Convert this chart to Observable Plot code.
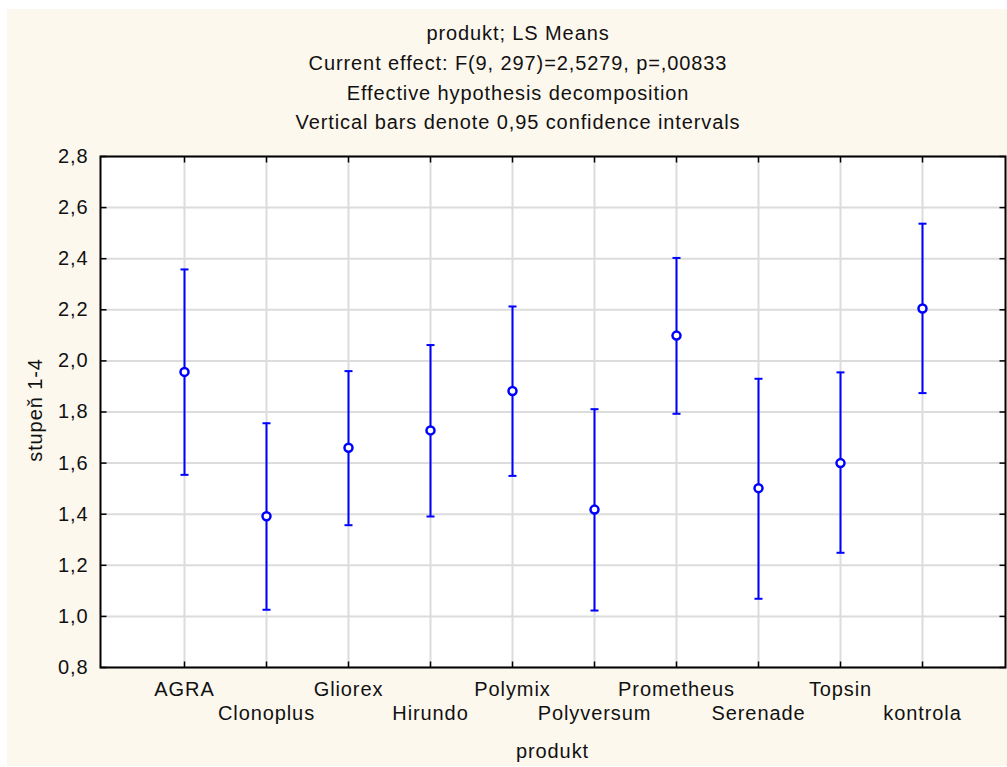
<!DOCTYPE html>
<html><head><meta charset="utf-8">
<script src="https://cdn.jsdelivr.net/npm/d3@7"></script>
<script src="https://cdn.jsdelivr.net/npm/@observablehq/plot@0.6"></script>
<style>
body{margin:0;background:#fff;}
#wrap{position:relative;width:1007px;height:767px;overflow:hidden;font-family:"Liberation Sans",Arial,sans-serif;color:#111;}
#panel{position:absolute;left:7px;top:9px;width:1000px;height:757px;background:#fdf8ee;}
.t{position:absolute;left:0;width:1036px;text-align:center;font-size:20px;letter-spacing:0.9px;line-height:30px;white-space:nowrap;}
#chart{position:absolute;left:0;top:140px;}
#chart svg text{letter-spacing:0.9px;}
#ylab{position:absolute;left:35px;top:410px;transform:translate(-50%,-50%) rotate(-90deg);font-size:20px;letter-spacing:0.9px;white-space:nowrap;line-height:24px;}
#xlab{position:absolute;left:0;width:1105px;top:736px;text-align:center;font-size:20px;letter-spacing:0.9px;line-height:30px;}
</style>
</head><body>
<div id="wrap">
  <div id="panel"></div>
  <div class="t" style="top:18px">produkt; LS Means</div>
  <div class="t" style="top:48px">Current effect: F(9, 297)=2,5279, p=,00833</div>
  <div class="t" style="top:78px">Effective hypothesis decomposition</div>
  <div class="t" style="top:107px">Vertical bars denote 0,95 confidence intervals</div>
  <div id="chart"></div>
  <div id="ylab">stupeň 1-4</div>
  <div id="xlab">produkt</div>
</div>
<script>
const products = ["AGRA","Clonoplus","Gliorex","Hirundo","Polymix","Polyversum","Prometheus","Serenade","Topsin","kontrola"];
const means = [1.957, 1.392, 1.660, 1.728, 1.882, 1.418, 2.099, 1.502, 1.600, 2.205];
const lower = [1.554, 1.026, 1.357, 1.391, 1.550, 1.023, 1.793, 1.069, 1.249, 1.874];
const upper = [2.358, 1.756, 1.960, 2.062, 2.213, 1.811, 2.403, 1.930, 1.955, 2.537];
const yTicks = [0.8, 1.0, 1.2, 1.4, 1.6, 1.8, 2.0, 2.2, 2.4, 2.6, 2.8];

const data = products.map((p, i) => ({produkt: p, mean: means[i], lo: lower[i], hi: upper[i], i}));
const fmt = d => d.toFixed(1).replace(".", ",");

const blue = "#0000ff";
const cap = {draw(ctx){ ctx.moveTo(-4, 0); ctx.lineTo(4, 0); }};
const tickL = {draw(ctx){ ctx.moveTo(0, 0); ctx.lineTo(6, 0); }};
const tickR = {draw(ctx){ ctx.moveTo(0, 0); ctx.lineTo(-6, 0); }};
const tickT = {draw(ctx){ ctx.moveTo(0, 0); ctx.lineTo(0, 6); }};
const tickB = {draw(ctx){ ctx.moveTo(0, 0); ctx.lineTo(0, -6); }};
const txt = {fontSize: 20, fill: "#111"};

const chart = Plot.plot({
  width: 1007,
  height: 627,
  marginTop: 16,
  marginBottom: 100,
  marginLeft: 100,
  marginRight: 2,
  style: {background: "transparent", fontFamily: "'Liberation Sans', Arial, sans-serif", overflow: "visible", letterSpacing: "0.9px"},
  x: {type: "point", domain: products, padding: 1, axis: null},
  y: {domain: [0.8, 2.8], axis: null},
  marks: [
    Plot.frame({fill: "white", stroke: null}),
    Plot.gridY(yTicks, {stroke: "#dcdcdc", strokeOpacity: 1, strokeWidth: 2}),
    Plot.gridX(products, {stroke: "#dcdcdc", strokeOpacity: 1, strokeWidth: 2}),
    Plot.dot(yTicks, {y: d => d, frameAnchor: "left", symbol: tickL, stroke: "black", fill: "none", strokeWidth: 1.5}),
    Plot.dot(yTicks, {y: d => d, frameAnchor: "right", symbol: tickR, stroke: "black", fill: "none", strokeWidth: 1.5}),
    Plot.dot(products, {x: d => d, frameAnchor: "top", symbol: tickT, stroke: "black", fill: "none", strokeWidth: 1.5}),
    Plot.dot(products, {x: d => d, frameAnchor: "bottom", symbol: tickB, stroke: "black", fill: "none", strokeWidth: 1.5}),
    Plot.ruleX(data, {x: "produkt", y1: "lo", y2: "hi", stroke: blue, strokeWidth: 2}),
    Plot.dot(data, {x: "produkt", y: "hi", symbol: cap, stroke: blue, fill: "none", strokeWidth: 2}),
    Plot.dot(data, {x: "produkt", y: "lo", symbol: cap, stroke: blue, fill: "none", strokeWidth: 2}),
    Plot.dot(data, {x: "produkt", y: "mean", r: 4, stroke: blue, fill: "white", strokeWidth: 2.5}),
    Plot.frame({stroke: "black", strokeWidth: 2}),
    Plot.text(yTicks, {y: d => d, frameAnchor: "left", dx: -12, textAnchor: "end", text: fmt, ...txt}),
    Plot.text(data.filter(d => d.i % 2 === 0), {x: "produkt", frameAnchor: "bottom", dy: 28, text: "produkt", ...txt}),
    Plot.text(data.filter(d => d.i % 2 === 1), {x: "produkt", frameAnchor: "bottom", dy: 52, text: "produkt", ...txt})
  ]
});
document.getElementById("chart").appendChild(chart);
</script>
</body></html>
